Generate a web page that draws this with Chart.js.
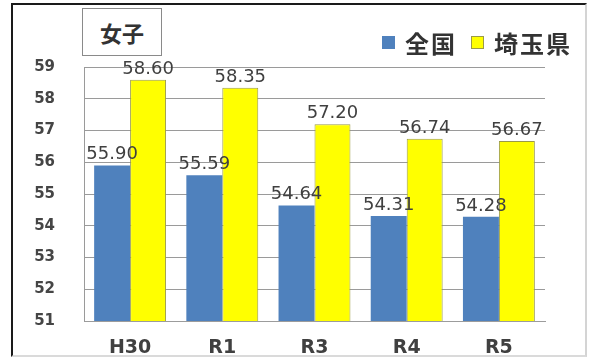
<!DOCTYPE html>
<html lang="ja">
<head>
<meta charset="utf-8">
<script src="https://cdn.jsdelivr.net/npm/chart.js@4"></script>
<style>
  html, body { margin: 0; padding: 0; background: #fff; }
  #wrap { position: relative; width: 591px; height: 362px; overflow: hidden; }
  #frame {
    position: absolute; left: 11px; top: 3px; width: 572px; height: 350px;
    border-top: 2px solid #1a1a1a; border-left: 2px solid #1a1a1a;
    border-right: 2px solid #d4d4d4; border-bottom: 2px solid #dadada;
  }
  #myChart { position: absolute; left: 0; top: 0; }
  .title-box {
    position: absolute; left: 82px; top: 8px; width: 78px; height: 46px;
    border: 1px solid #8a8a8a; background: #fff;
    font: bold 22px "Noto Sans CJK JP", sans-serif; color: #333;
    display: flex; align-items: center; justify-content: center;
  }
  .legend {
    position: absolute; left: 382px; top: 28px; height: 28px;
    display: flex; align-items: center;
    font: bold 24px "Noto Sans CJK JP", sans-serif; color: #333;
    letter-spacing: 2px;
  }
  .legend .sw { width: 13px; height: 13px; margin-right: 10px; box-sizing: border-box; }
  .legend .item { display: flex; align-items: center; margin-right: 14px; }
</style>
</head>
<body>
<div id="wrap">
  <div id="frame"></div>
  <canvas id="myChart" width="591" height="362"></canvas>
  <div class="title-box">女子</div>
  <div class="legend" id="legend"></div>
</div>
<script>
// 年度ごとの平均値（女子）
const categories = ['H30', 'R1', 'R3', 'R4', 'R5'];
const seriesNames = ['全国', '埼玉県'];
const national = [55.90, 55.59, 54.64, 54.31, 54.28];
const saitama = [58.60, 58.35, 57.20, 56.74, 56.67];
const yMin = 51;
const yMax = 59;

const blue = '#4f81bd';
const yellow = '#ffff00';

// values printed above each bar
const valueLabels = {
    id: 'valueLabels',
    afterDatasetsDraw(chart) {
        const ctx = chart.ctx;
        ctx.save();
        ctx.font = '18px "DejaVu Sans"';
        ctx.fillStyle = '#404040';
        ctx.textAlign = 'center';
        ctx.textBaseline = 'alphabetic';
        chart.data.datasets.forEach((ds, i) => {
            chart.getDatasetMeta(i).data.forEach((bar, j) => {
                ctx.fillText(ds.data[j].toFixed(2), bar.x, bar.y - 6);
            });
        });
        ctx.restore();
    }
};

let callChart = document.getElementById('myChart').getContext('2d');
let chart = new Chart(callChart, {
    type: 'bar',
    data: {
        labels: categories,
        datasets: [{
            label: seriesNames[0],
            backgroundColor: blue,
            borderColor: blue,
            borderWidth: 0,
            data: national
        }, {
            label: seriesNames[1],
            backgroundColor: yellow,
            borderColor: '#9a9a48',
            borderWidth: 1,
            data: saitama
        }]
    },
    options: {
        responsive: false,
        animation: false,
        events: [],
        layout: { padding: { left: 0, right: 46, top: 67, bottom: 0 } },
        categoryPercentage: 0.78,
        barPercentage: 1.0,
        plugins: {
            legend: { display: false },
            tooltip: { enabled: false }
        },
        scales: {
            x: {
                grid: { display: false, drawTicks: false },
                border: { display: true, color: '#9c9c9c', width: 1 },
                ticks: {
                    color: '#404040',
                    padding: 16,
                    font: { family: 'DejaVu Sans', size: 19, weight: 'bold' }
                },
                afterFit: (s) => { s.height = 41; }
            },
            y: {
                min: yMin,
                max: yMax,
                grid: { color: '#9a9a9a', lineWidth: 1, drawTicks: false },
                border: { display: true, color: '#9a9a9a', width: 1 },
                ticks: {
                    stepSize: 1,
                    color: '#454545',
                    padding: 29,
                    font: { family: 'DejaVu Sans', size: 15, weight: 'bold' }
                },
                afterFit: (s) => { s.width = 84; }
            }
        }
    },
    plugins: [valueLabels]
});

// legend built from the chart's datasets
let legend = document.getElementById('legend');
chart.data.datasets.forEach((ds) => {
    let item = document.createElement('div');
    item.className = 'item';
    let sw = document.createElement('span');
    sw.className = 'sw';
    sw.style.background = ds.backgroundColor;
    if (ds.borderWidth) sw.style.border = '1px solid ' + ds.borderColor;
    let txt = document.createElement('span');
    txt.textContent = ds.label;
    item.appendChild(sw);
    item.appendChild(txt);
    legend.appendChild(item);
});
</script>
</body>
</html>
